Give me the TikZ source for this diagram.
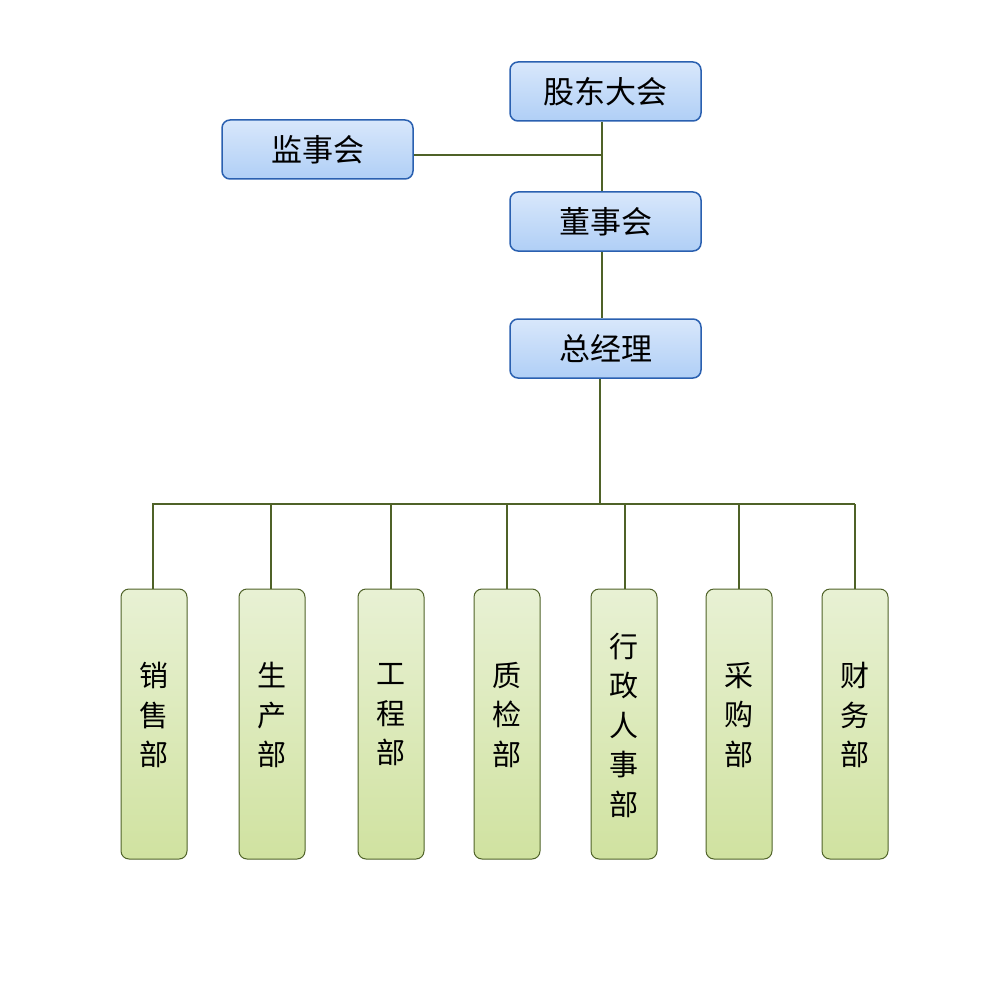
\documentclass[tikz,border=0pt]{standalone}
\usepackage{fontspec}
\newfontfamily\cjk{Noto Sans CJK SC}
\definecolor{lineg}{HTML}{4F6228}
\definecolor{blueb}{HTML}{2A60B0}
\definecolor{bluet}{HTML}{D8E7FB}
\definecolor{blueB}{HTML}{B0CFF6}
\definecolor{greent}{HTML}{E8F1D4}
\definecolor{greenB}{HTML}{D0E2A0}
\begin{document}
\begin{tikzpicture}[x=1pt,y=-1pt,
  topbox/.style={draw=blueb,line width=1.5pt,rounded corners=8pt,top color=bluet,bottom color=blueB,
    minimum width=191pt,minimum height=59pt,inner sep=0pt,font=\cjk\fontsize{31}{36}\selectfont},
  deptbox/.style={draw=lineg,line width=1pt,rounded corners=8pt,top color=greent,bottom color=greenB,
    minimum width=66pt,minimum height=270pt,inner sep=0pt},
  depttext/.style={align=center,yshift=9pt,font=\cjk\fontsize{29}{39.5}\selectfont},
  conn/.style={draw=lineg,line width=2pt}]
\useasboundingbox (0,0) rectangle (1000,1000);
\node[topbox] (gd) at (605.5,91.5) {股东大会};
\node[topbox] (js) at (317.5,149.5) {监事会};
\node[topbox] (ds) at (605.5,221.5) {董事会};
\node[topbox] (zj) at (605.5,348.5) {总经理};
\node[deptbox,label={[depttext]center:销\\售\\部}] (d1) at (154,724) {};
\node[deptbox,label={[depttext]center:生\\产\\部}] (d2) at (272,724) {};
\node[deptbox,label={[depttext]center:工\\程\\部}] (d3) at (391,724) {};
\node[deptbox,label={[depttext]center:质\\检\\部}] (d4) at (507,724) {};
\node[deptbox,label={[depttext,yshift=-10pt]center:行\\政\\人\\事\\部}] (d5) at (624,724) {};
\node[deptbox,label={[depttext]center:采\\购\\部}] (d6) at (739,724) {};
\node[deptbox,label={[depttext]center:财\\务\\部}] (d7) at (855,724) {};
\coordinate (j1) at (602,155);
\coordinate (busL) at (152,504);
\coordinate (busR) at (855,504);
\coordinate (busM) at (600,504);
\draw[conn] (gd.south -| j1) -- (ds.north -| j1);
\draw[conn] (js.east |- j1) -- (j1);
\draw[conn] (ds.south -| j1) -- (zj.north -| j1);
\draw[conn] (zj.south -| busM) -- (busM);
\draw[conn] (busL) -- (busR);
\foreach \d/\x in {d1/153,d2/271,d3/391,d4/507,d5/625,d6/739,d7/855}
  \draw[conn] (\x,504) -- (\d.north -| \x,0);
\end{tikzpicture}
\end{document}
